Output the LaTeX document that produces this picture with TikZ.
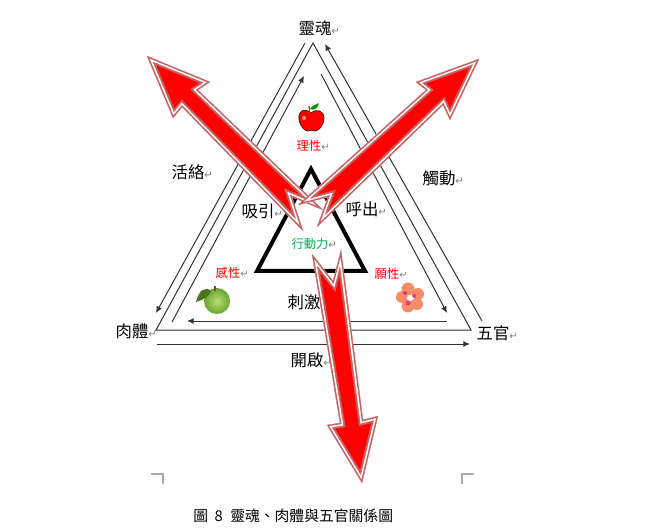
\documentclass[tikz,border=0pt]{standalone}
\usepackage{fontspec}
\usepackage{xcolor}
\usepackage{tikz}
\usetikzlibrary{arrows.meta,shapes,calc,positioning}
\setmainfont{Noto Sans CJK TC}
\newfontfamily\markfont{DejaVu Sans}
\newcommand{\pmark}{\rlap{\markfont\fontsize{7.5pt}{7.5pt}\selectfont\color{gray}↵}}
\newcommand{\bigarrow}[1]{%
	\begin{scope}
		\fill[red] #1;
		\clip #1;
		\draw[rose, line width=7.4pt] #1;
		\draw[white, line width=4.4pt] #1;
		\draw[rose, line width=2pt] #1;
	\end{scope}}
\tikzset{
	% Specifications for style of nodes:
	big/.style = {inner sep=0pt, font=\fontsize{12.3pt}{13pt}\selectfont},
	small/.style = {inner sep=0pt, font=\fontsize{9.2pt}{10pt}\selectfont},
	virtue/.style = {small, text=red},
	action/.style = {small, text=actgreen},
	caption/.style = {inner sep=0pt, font=\fontsize{11.1pt}{12pt}\selectfont},
	% Specifications for style of lines:
	rim/.style = {draw=darkline, line width=0.75pt},
	link/.style = {draw=darkline, line width=0.75pt, -{Latex[length=5pt,width=4.5pt]}},
	core/.style = {draw=black, line width=3pt, miter limit=10},
	crop/.style = {draw=cropgray, line width=0.9pt},
	rose/.style = {draw=rosered},
}
\definecolor{darkline}{RGB}{50,50,50}
\definecolor{actgreen}{RGB}{0,176,80}
\definecolor{rosered}{RGB}{200,96,96}
\definecolor{cropgray}{RGB}{170,170,170}
\definecolor{applelight}{RGB}{185,220,120}
\definecolor{applegreen}{RGB}{105,165,45}
\definecolor{petal}{RGB}{248,140,105}
\definecolor{petalcore}{RGB}{225,60,130}

\begin{document}
\begin{tikzpicture}[x=0.75pt, y=-0.75pt]
	\useasboundingbox (0,0) rectangle (655,530);
	% corners of outer triangle
	\coordinate (apex) at (313,43);
	\coordinate (fleshcorner) at (156,330);
	\coordinate (sensecorner) at (471,330);
	% connection coordinates for thin arrows
	\coordinate (lA) at (305,43);
	\coordinate (lB) at (156,313);
	\coordinate (lC) at (172,322);
	\coordinate (lD) at (304,76);
	\coordinate (rA) at (482,321);
	\coordinate (rB) at (325,44);
	\coordinate (rC) at (321,74);
	\coordinate (rD) at (447,313);
	\coordinate (bA) at (447,321);
	\coordinate (bB) at (187,321);
	\coordinate (bC) at (157,344);
	\coordinate (bD) at (470,344);
	% corners of inner triangle
	\coordinate (tipin) at (311,169);
	\coordinate (leftin) at (257,271);
	\coordinate (rightin) at (365,271);
	% draw labels
	\node (soul)[big] at (315,28) {靈魂\pmark};
	\node (flesh)[big] at (132,331) {肉體\pmark};
	\node (senses)[big] at (493,333) {五官\pmark};
	\node (vital)[big] at (188,172) {活絡\pmark};
	\node (touch)[big] at (439,178) {觸動\pmark};
	\node (inhale)[big] at (258,211) {吸引\pmark};
	\node (exhale)[big] at (362,209) {呼出\pmark};
	\node (stimulus)[big] at (304,302) {刺激\pmark};
	\node (opening)[big] at (307,360) {開啟\pmark};
	\node (reason)[virtue] at (309,146) {理性\pmark};
	\node (feeling)[virtue] at (228,273) {感性\pmark};
	\node (will)[virtue] at (387,274) {願性\pmark};
	\node (acting)[action] at (310,244) {行動力\pmark};
	\node (figcap)[caption, anchor=west] at (193,516) {圖\hspace{5pt}8\hspace{5.5pt}靈魂、肉體與五官關係圖};
	% draw triangles and thin arrows
	\draw[rim] (apex) -- (fleshcorner) -- (sensecorner) -- cycle;
	\draw[core] (tipin) -- (leftin) -- (rightin) -- cycle;
	\draw[link] (lA) -- (lB);
	\draw[link] (lC) -- (lD);
	\draw[link] (rA) -- (rB);
	\draw[link] (rC) -- (rD);
	\draw[link] (bA) -- (bB);
	\draw[link] (bC) -- (bD);
	% red apple
	\fill[red, draw=black!70!red, line width=0.5pt] (311,113) .. controls (304,107) and (298,111) .. (299,119) .. controls (300,127) and (305,131) .. (308,131) .. controls (310,130) and (313,130) .. (315,131) .. controls (319,131) and (324,125) .. (324,118) .. controls (324,111) and (317,108) .. cycle;
	\draw[brown!70!black, line width=0.9pt] (310,114) -- (309,106);
	\fill[green!60!black] (310,109) .. controls (313,104) and (319,104) .. (319,103) .. controls (318,108) and (315,111) .. cycle;
	\fill[white, opacity=0.6] (304,118) circle [radius=2];
	% green apple
	\shade[inner color=applelight, outer color=applegreen] (217,301) circle [radius=13];
	\fill[applegreen!70!black] (211,291) .. controls (205,286) and (199,290) .. (196,302) .. controls (203,300) and (209,297) .. cycle;
	\draw[brown!60!black, line width=0.8pt] (215,291) -- (215,286);
	% flower
	\fill[petal] (408,289) circle [radius=6.5];
	\fill[petal] (418,294) circle [radius=6];
	\fill[petal] (417,304) circle [radius=6];
	\fill[petal] (408,306) circle [radius=6.5];
	\fill[petal] (402,297) circle [radius=6];
	\fill[petalcore] (405,293) circle [radius=2];
	\fill[petalcore] (414,296) circle [radius=2];
	\fill[petalcore] (408,303) circle [radius=2.5];
	\fill[white] (410,298) circle [radius=3];
	% draw big red arrows
	\bigarrow{(147,56) -- (210,82) -- (198,90) -- (323,210) -- (292,197) -- (303,231) -- (182,107) -- (173,118) -- cycle}
	\bigarrow{(479,59) -- (450,120) -- (443,105) -- (317,227) -- (328,197) -- (298,205) -- (426,90) -- (416,82) -- cycle}
	\bigarrow{(362,483) -- (327,425) -- (340,423) -- (312,254) -- (333,281) -- (341,250) -- (363,420) -- (378,416) -- cycle}
	% crop marks
	\coordinate (cropA) at (151,474);
	\coordinate (cropB) at (163,474);
	\coordinate (cropC) at (163,484);
	\coordinate (cropD) at (474,474);
	\coordinate (cropE) at (462,474);
	\coordinate (cropF) at (462,484);
	\draw[crop] (cropA) -- (cropB) -- (cropC);
	\draw[crop] (cropD) -- (cropE) -- (cropF);
\end{tikzpicture}
\end{document}
